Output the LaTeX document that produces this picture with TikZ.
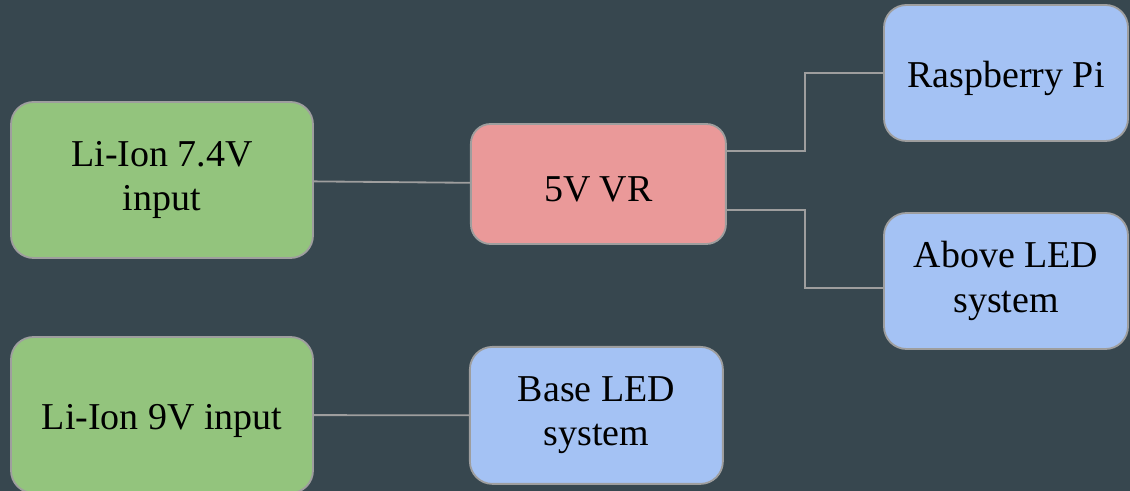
\documentclass[tikz,border=0pt]{standalone}
\usepackage{fontspec}
\setmainfont{Liberation Serif}
\usepackage{xcolor}
\usepackage{tikz}
\usetikzlibrary{positioning,calc}
\definecolor{bgslate}{HTML}{37474F}
\definecolor{battgreen}{HTML}{93C47D}
\definecolor{regred}{HTML}{EA9999}
\definecolor{loadblue}{HTML}{A4C2F4}
\definecolor{edgegray}{HTML}{9E9E9E}

\begin{document}
\begin{tikzpicture}[
    blk/.style={draw=edgegray, rounded corners=16pt, line width=1.3pt, font=\fontsize{27}{31.5}\selectfont, align=center, text=black, inner sep=0pt, execute at begin node={\rule{0pt}{26pt}}},
    batt/.style={blk, fill=battgreen, minimum width=7.55cm, minimum height=3.9cm},
    reg/.style={blk, fill=regred, minimum width=6.375cm, minimum height=3.0cm, rounded corners=14pt},
    load/.style={blk, fill=loadblue, minimum width=6.1cm, minimum height=3.4cm},
    wire/.style={draw=edgegray, line width=1.3pt}
]
    % Background
    \fill[bgslate] (0,0) rectangle (28.25,12.275);
    \useasboundingbox (0,0) rectangle (28.25,12.275);

    % Inputs
    \node[batt] (b_74) at (4.05, 7.775) {Li-Ion 7.4V\\input};
    \node[batt] (b_9) at (4.05, 1.9) {Li-Ion 9V input};

    % Regulator
    \node[reg] (vr) at (14.96, 7.675) {5V VR};

    % Loads
    \node[load] (l_rpi) at (25.15, 10.45) {Raspberry Pi};
    \node[load] (l_above) at (25.15, 5.25) {Above LED\\system};
    \node[load, minimum width=6.325cm, minimum height=3.425cm] (l_base) at (14.91, 1.89) {Base LED\\system};

    % Wiring
    \draw[wire] (b_74) -- (vr);
    \draw[wire] ([yshift=8.25mm]vr.east) -- ++(1.95,0) |- (l_rpi.west);
    \draw[wire] ([yshift=-6.5mm]vr.east) -- ++(1.95,0) |- ([yshift=-1.75mm]l_above.west);
    \draw[wire] (b_9) -- (l_base);

\end{tikzpicture}
\end{document}
